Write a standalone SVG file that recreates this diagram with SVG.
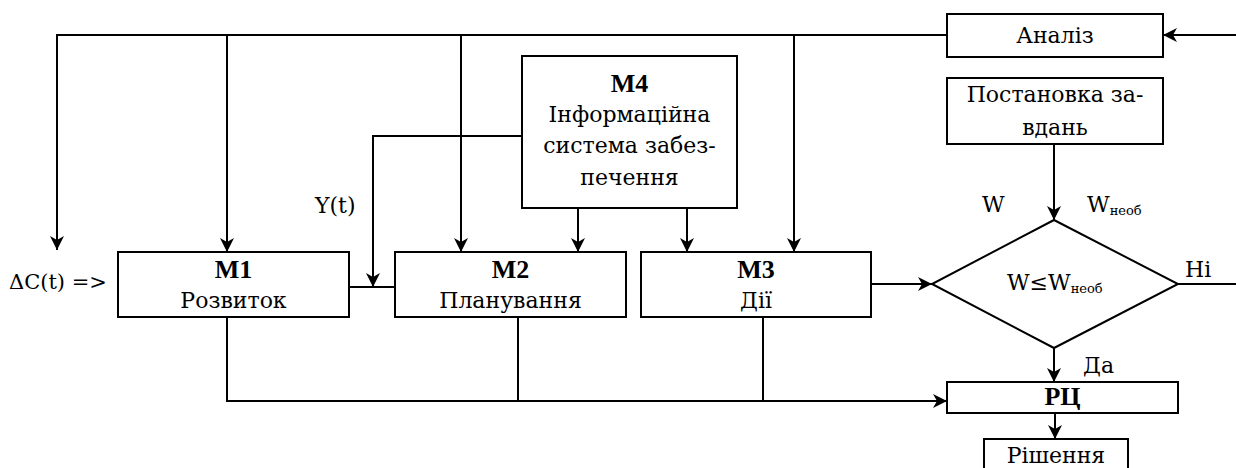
<svg xmlns="http://www.w3.org/2000/svg" width="1236" height="468" viewBox="0 0 1236 468">
<style>
.box{fill:#fff;stroke:#000;stroke-width:2}
.ln{fill:none;stroke:#000;stroke-width:2}
.t{font-family:'DejaVu Serif','Liberation Serif',serif;font-size:22px;fill:#000}
.b{font-weight:bold;font-family:'Liberation Serif','DejaVu Serif',serif;font-size:26px}
.m{text-anchor:middle}
.s{font-size:13px}
</style>
<defs>
<marker id="ar" markerUnits="userSpaceOnUse" viewBox="0 0 14 14" refX="14" refY="7" markerWidth="14" markerHeight="14" orient="auto">
<path d="M0,0 L14,7 L0,14 L4,7 Z" fill="#000"/>
</marker>
</defs>
<rect width="1236" height="468" fill="#fff"/>
<g id="connectors">
<path class="ln" d="M1236,35 H1163" marker-end="url(#ar)"/>
<path class="ln" d="M947,35 H57 V250" marker-end="url(#ar)"/>
<path class="ln" d="M227,35 V252" marker-end="url(#ar)"/>
<path class="ln" d="M461,35 V252" marker-end="url(#ar)"/>
<path class="ln" d="M794,35 V252" marker-end="url(#ar)"/>
<path class="ln" d="M522,136 H373 V287" marker-end="url(#ar)"/>
<path class="ln" d="M349,287 H395"/>
<path class="ln" d="M578,208 V252" marker-end="url(#ar)"/>
<path class="ln" d="M687,208 V252" marker-end="url(#ar)"/>
<path class="ln" d="M871,284 H932" marker-end="url(#ar)"/>
<path class="ln" d="M1054,144 V220" marker-end="url(#ar)"/>
<path class="ln" d="M1178,284 H1236"/>
<path class="ln" d="M1054,348 V382" marker-end="url(#ar)"/>
<path class="ln" d="M227,317 V401 H947" marker-end="url(#ar)"/>
<path class="ln" d="M518,317 V401"/>
<path class="ln" d="M763,317 V401"/>
<path class="ln" d="M1055,413 V439" marker-end="url(#ar)"/>
</g>
<g id="analiz">
<rect class="box" x="947" y="14" width="216" height="43"/>
<text class="t m" x="1055" y="43">Аналіз</text>
</g>
<g id="postanovka">
<rect class="box" x="947" y="78" width="216" height="66"/>
<text class="t m" x="1055" y="102">Постановка за-</text>
<text class="t m" x="1055" y="135">вдань</text>
</g>
<g id="m4">
<rect class="box" x="522" y="56" width="215" height="152"/>
<text class="t m b" x="629.5" y="92">M4</text>
<text class="t m" x="629.5" y="122">Інформаційна</text>
<text class="t m" x="629.5" y="153">система забез-</text>
<text class="t m" x="629.5" y="185">печення</text>
</g>
<g id="m1">
<rect class="box" x="118" y="252" width="231" height="65"/>
<text class="t m b" x="233.5" y="278">M1</text>
<text class="t m" x="233.5" y="308">Розвиток</text>
</g>
<g id="m2">
<rect class="box" x="395" y="252" width="231" height="65"/>
<text class="t m b" x="510.5" y="278">M2</text>
<text class="t m" x="510.5" y="308">Планування</text>
</g>
<g id="m3">
<rect class="box" x="641" y="252" width="230" height="65"/>
<text class="t m b" x="756" y="278">M3</text>
<text class="t m" x="756" y="308">Дії</text>
</g>
<g id="decision">
<polygon class="box" points="1054,220 1178,284 1054,348 932,284"/>
<text class="t" x="1007" y="290">W≤W<tspan class="s" dy="3">необ</tspan></text>
</g>
<g id="rc">
<rect class="box" x="947" y="382" width="231" height="31"/>
<text class="t m b" x="1062.5" y="405">РЦ</text>
</g>
<g id="rishennya">
<rect class="box" x="984" y="439" width="144" height="40"/>
<text class="t m" x="1056" y="463">Рішення</text>
</g>
<g id="labels">
<text class="t" x="9" y="289" style="font-size:21px">ΔC(t) =&gt;</text>
<text class="t" x="315" y="213">Y(t)</text>
<text class="t" x="982" y="212">W</text>
<text class="t" x="1087" y="212">W<tspan class="s" dy="3">необ</tspan></text>
<text class="t" x="1185" y="277">Ні</text>
<text class="t" x="1083" y="373">Да</text>
</g>
</svg>
